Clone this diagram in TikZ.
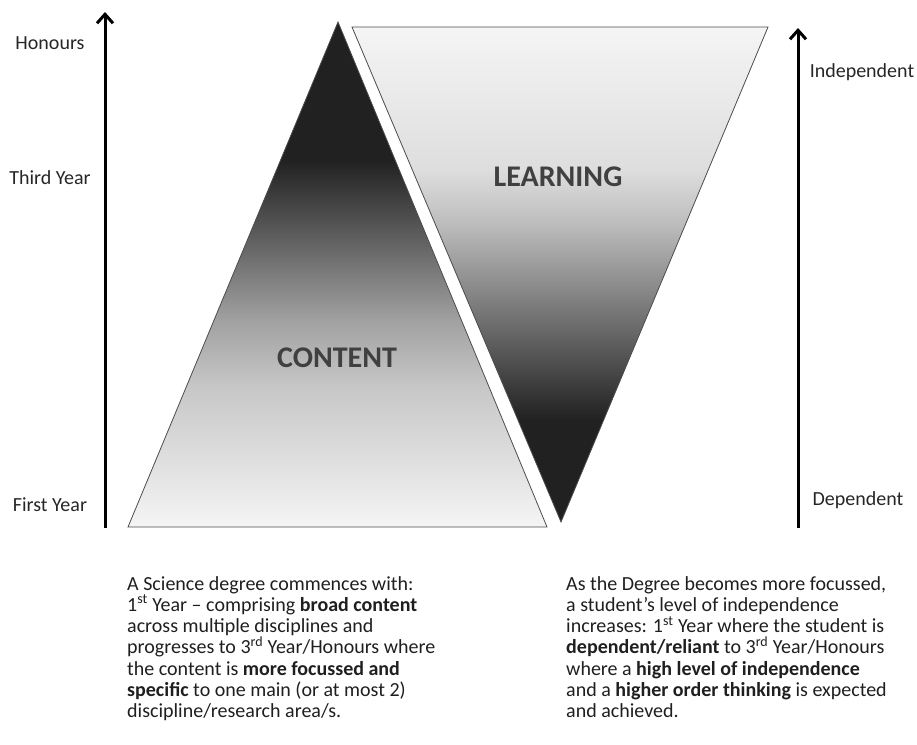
\documentclass[tikz,border=0pt]{standalone}
\usepackage{fontspec}
\setmainfont{Carlito}
\usetikzlibrary{arrows.meta,positioning}
\pgfdeclareverticalshading{contentfill}{100bp}{color(0bp)=(black!4); color(25bp)=(black!4); color(38.9bp)=(black!22); color(45.5bp)=(black!37); color(52.1bp)=(black!58); color(61.3bp)=(black!87); color(100bp)=(black!87)}
\pgfdeclareverticalshading{learningfill}{100bp}{color(0bp)=(black!87); color(35.3bp)=(black!87); color(45.4bp)=(black!56); color(55.5bp)=(black!25); color(60.6bp)=(black!13); color(75bp)=(black!4); color(100bp)=(black!4)}
\tikzset{eaxis/.style={-{Straight Barb[length=9pt,width=16pt,line width=3pt]},line width=3pt}}
\tikzset{tri/.style={draw=black!70,line width=0.8pt}}
\tikzset{bigword/.style={font=\fontsize{30}{34}\selectfont\bfseries,text=black!75}}
\tikzset{ylabel/.style={font=\fontsize{20}{24}\selectfont,text=black!85}}
\tikzset{blurb/.style={font=\fontsize{20}{21.3}\selectfont,anchor=north west,align=left,inner sep=0pt,text=black!88}}

\begin{document}
\begin{tikzpicture}[x=1pt,y=-1pt]
\useasboundingbox (0,0) rectangle (917,744);
% draw the axis
\coordinate (lbot) at (105,528);
\coordinate (ltop) at (105,12);
\coordinate (rbot) at (798,528);
\coordinate (rtop) at (798,28);
\draw[eaxis] (lbot) -- (ltop);
\draw[eaxis] (rbot) -- (rtop);
% axis labels
\node[ylabel] (hon) at (50,43) {Honours};
\node[ylabel] (third) at (50,178) {Third Year};
\node[ylabel] (first) at (50,505) {First Year};
\node[ylabel] (indep) at (862,72) {Independent};
\node[ylabel] (dep) at (858,500) {Dependent};
% the two triangles
\shade[tri,shading=contentfill] (338,22) -- (547,527) -- (128,527) -- cycle;
\shade[tri,shading=learningfill] (352,27) -- (768,27) -- (561,522) -- cycle;
\node[bigword] (content) at (337,358) {CONTENT};
\node[bigword] (learning) at (558,177) {LEARNING};
% explanations below
\node[blurb] (lefttext) at (127,576) {A Science degree commences with:\\
1\textsuperscript{st} Year -- comprising \textbf{broad content}\\
across multiple disciplines and\\
progresses to 3\textsuperscript{rd} Year/Honours where\\
the content is \textbf{more focussed and}\\
\textbf{specific} to one main (or at most 2)\\
discipline/research area/s.};
\node[blurb] (righttext) at (566,576) {As the Degree becomes more focussed,\\
a student’s level of independence\\
increases: 1\textsuperscript{st} Year where the student is\\
\textbf{dependent/reliant} to 3\textsuperscript{rd} Year/Honours\\
where a \textbf{high level of independence}\\
and a \textbf{higher order thinking} is expected\\
and achieved.};
\end{tikzpicture}
\end{document}
